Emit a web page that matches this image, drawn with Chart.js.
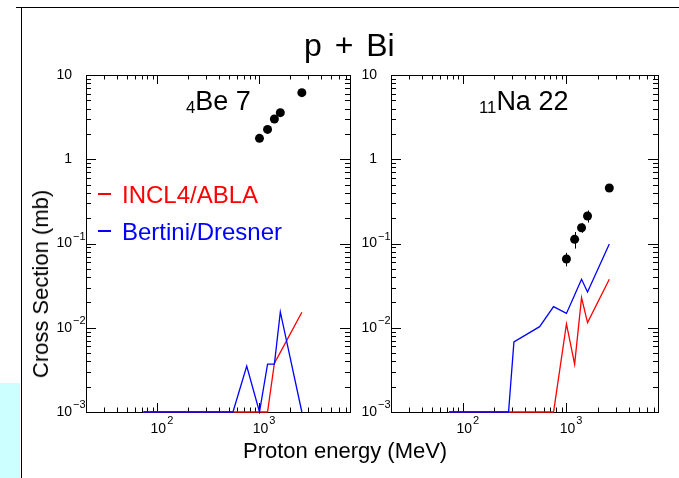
<!DOCTYPE html>
<html>
<head>
<meta charset="utf-8">
<script src="https://cdn.jsdelivr.net/npm/chart.js@4.4.1/dist/chart.umd.min.js"></script>
<style>
  body { margin: 0; width: 679px; height: 478px; position: relative; overflow: hidden; background: #fff;
         font-family: "Liberation Sans", Arial, sans-serif; }
  canvas { position: absolute; left: 0; top: 0; }
  .txt { position: absolute; white-space: nowrap; color: #000; line-height: 1; }
  .frameTop { position: absolute; left: 16px; top: 7px; width: 663px; height: 1px; background: #000; }
  .frameLeft { position: absolute; left: 21px; top: 7px; width: 1px; height: 471px; background: #000; }
  .cyan { position: absolute; left: 0; top: 383px; width: 20px; height: 95px; background: #ccffff; }
  .dash { position: absolute; width: 13px; height: 1.5px; }
  sub { font-size: 62%; vertical-align: baseline; position: relative; top: 0.2em; }
</style>
</head>
<body>
<div class="cyan"></div>
<div class="frameTop"></div>
<div class="frameLeft"></div>
<canvas id="beChart" width="679" height="478"></canvas>
<canvas id="naChart" width="679" height="478"></canvas>

<div class="txt" style="left:304px;top:29px;font-size:32px;word-spacing:4px;">p + Bi</div>
<div class="txt" style="left:243px;top:440px;font-size:22px;">Proton energy (MeV)</div>
<div class="txt" style="left:41px;top:284px;font-size:22px;transform:translate(-50%,-50%) rotate(-90deg);">Cross Section (mb)</div>
<div class="txt" style="left:186px;top:88px;font-size:27px;"><sub>4</sub>Be 7</div>
<div class="txt" style="left:479px;top:88px;font-size:27px;"><sub>11</sub>Na 22</div>

<div class="dash" style="left:98px;top:193px;background:#ff0000;"></div>
<div class="txt" style="left:122px;top:183px;font-size:24px;color:#ff0000;">INCL4/ABLA</div>
<div class="dash" style="left:98px;top:230px;background:#0000ff;"></div>
<div class="txt" style="left:122px;top:220px;font-size:24px;color:#0000ff;">Bertini/Dresner</div>

<script>
// model energies (MeV)
const energies = [73, 275, 310, 550, 750, 1000, 1200, 1400, 1600, 2600];
// 4Be 7
const beInclAbla = [0.001, 0.001, 0.001, 0.001, 0.001, 0.001, 0.001, 0.0038, 0.0051, 0.0153];
const beBertini = [0.001, 0.001, 0.001, 0.001, 0.0035, 0.001, 0.0037, 0.0037, 0.0154, 0.001];
// 11Na 22
const naInclAbla = [0.001, 0.001, 0.001, 0.001, 0.001, 0.0111, 0.0037, 0.0228, 0.0115, 0.0376];
const naBertini = [0.001, 0.001, 0.0068, 0.0103, 0.0178, 0.0148, 0.0245, 0.0376, 0.0266, 0.0986];
// experiment
const expEnergies = [1000, 1200, 1400, 1600, 2600];
const beExp = [1.77, 2.26, 3.0, 3.57, 6.17];
const beErr = [0.15, 0.2, 0.2, 0.25, 0.35];
const naExp = [0.0655, 0.112, 0.154, 0.212, 0.456];
const naErr = [0.012, 0.025, 0.02, 0.035, 0.03];
// axes
const xMin = 20, xMax = 7700;
const yMin = 0.001, yMax = 10;
const xMajor = [100, 1000];
const yMajor = [10, 1, 0.1, 0.01, 0.001];
const yLabels = [['10', ''], ['1', ''], ['10', '-1'], ['10', '-2'], ['10', '-3']];
const xLabels = [['10', '2'], ['10', '3']];

function pts(xs, ys) {
  return xs.map((x, i) => ({ x: x, y: ys[i] }));
}

// ROOT style frame: inward ticks on all four sides, labels with exponents
const rootFrame = {
  id: 'rootFrame',
  beforeDatasetsDraw(chart) {
    const ctx = chart.ctx, a = chart.chartArea;
    const xs = chart.scales.x, ys = chart.scales.y;
    ctx.save();
    ctx.strokeStyle = '#000';
    ctx.lineWidth = 1;
    ctx.strokeRect(Math.round(a.left) + 0.5, Math.round(a.top) + 0.5,
                   Math.round(a.right - a.left), Math.round(a.bottom - a.top));
    ctx.beginPath();
    for (let d = 1; d <= 3; d++) {
      for (let m = 1; m <= 9; m++) {
        const v = m * Math.pow(10, d);
        if (v < xMin || v > xMax) continue;
        const px = Math.round(xs.getPixelForValue(v)) + 0.5;
        const len = m === 1 ? 9 : 4.5;
        ctx.moveTo(px, a.bottom); ctx.lineTo(px, a.bottom - len);
        ctx.moveTo(px, a.top); ctx.lineTo(px, a.top + len);
      }
    }
    for (let d = -3; d <= 1; d++) {
      for (let m = 1; m <= 9; m++) {
        const v = m * Math.pow(10, d);
        if (v < yMin || v > yMax) continue;
        const py = Math.round(ys.getPixelForValue(v)) + 0.5;
        const len = m === 1 ? 10 : 5;
        ctx.moveTo(a.left, py); ctx.lineTo(a.left + len, py);
        ctx.moveTo(a.right, py); ctx.lineTo(a.right - len, py);
      }
    }
    ctx.stroke();

    ctx.fillStyle = '#000';
    ctx.textBaseline = 'middle';
    // y labels
    yMajor.forEach((v, i) => {
      const py = ys.getPixelForValue(v);
      const bx = a.left - 14;
      ctx.font = '14px "Liberation Sans", Arial, sans-serif';
      ctx.textAlign = 'right';
      ctx.fillText(yLabels[i][0], bx, py);
      if (yLabels[i][1]) {
        ctx.font = '11px "Liberation Sans", Arial, sans-serif';
        ctx.textAlign = 'left';
        ctx.fillText(yLabels[i][1].replace('-', '\u2212'), bx + 1, py - 7);
      }
    });
    // x labels
    xMajor.forEach((v, i) => {
      const px = xs.getPixelForValue(v);
      ctx.font = '14px "Liberation Sans", Arial, sans-serif';
      ctx.textAlign = 'center';
      ctx.fillText(xLabels[i][0], px + 1, a.bottom + 17);
      const w = ctx.measureText(xLabels[i][0]).width;
      ctx.font = '11px "Liberation Sans", Arial, sans-serif';
      ctx.textAlign = 'left';
      ctx.fillText(xLabels[i][1], px + 1 + w / 2 + 1, a.bottom + 9);
    });

    // error bars on experiment
    const ds = chart.data.datasets[0];
    ctx.beginPath();
    ds.data.forEach((p, i) => {
      const px = Math.round(xs.getPixelForValue(p.x)) + 0.5;
      ctx.moveTo(px, ys.getPixelForValue(p.y - ds.errors[i]));
      ctx.lineTo(px, ys.getPixelForValue(p.y + ds.errors[i]));
    });
    ctx.stroke();
    ctx.restore();
  }
};

function makeChart(id, pad, exp, err, incl, bert) {
  return new Chart(document.getElementById(id), {
    type: 'line',
    data: {
      datasets: [
        { data: pts(expEnergies, exp), errors: err, showLine: false, pointRadius: 4.5,
          pointBackgroundColor: '#000', pointBorderColor: '#000', pointBorderWidth: 0, clip: false },
        { data: pts(energies, bert), borderColor: '#0000ff', borderWidth: 1.3, pointRadius: 0, clip: 2 },
        { data: pts(energies, incl), borderColor: '#ff0000', borderWidth: 1.3, pointRadius: 0, clip: 2 }
      ]
    },
    options: {
      responsive: false,
      animation: false,
      layout: { padding: pad },
      plugins: { legend: { display: false }, tooltip: { enabled: false } },
      elements: { line: { tension: 0 } },
      scales: {
        x: { type: 'logarithmic', min: xMin, max: xMax, display: false },
        y: { type: 'logarithmic', min: yMin, max: yMax, display: false }
      }
    },
    plugins: [rootFrame]
  });
}

makeChart('beChart', { left: 86, right: 679 - 350, top: 75, bottom: 478 - 412 }, beExp, beErr, beInclAbla, beBertini);
makeChart('naChart', { left: 391, right: 679 - 658, top: 75, bottom: 478 - 412 }, naExp, naErr, naInclAbla, naBertini);
</script>
</body>
</html>
